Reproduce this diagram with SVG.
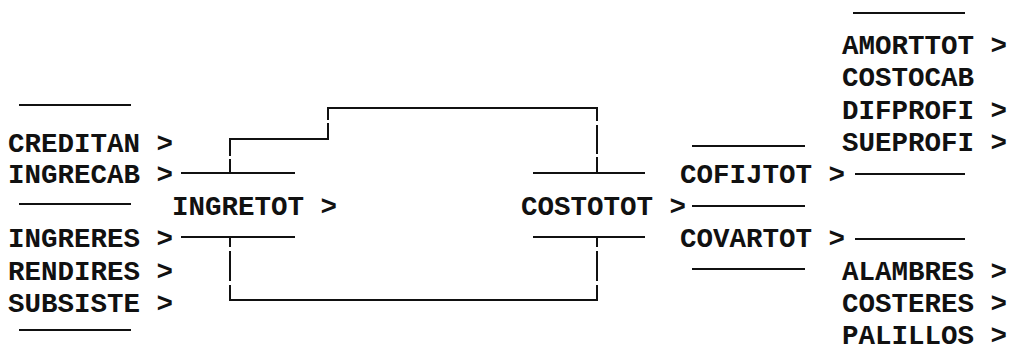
<svg xmlns="http://www.w3.org/2000/svg" width="1009" height="360" viewBox="0 0 1009 360">
  <style>
    text { font-family: "Liberation Mono", "Courier New", monospace; font-weight: bold; font-size: 27.5px; fill: #111; }
    .ln { stroke: #111; stroke-width: 2; fill: none; stroke-linecap: butt; }
  </style>
  <rect width="1009" height="360" fill="#fff"/>

  <!-- left inputs of INGRETOT -->
  <g id="creditan"><text x="8" y="152">CREDITAN &gt;</text></g>
  <g id="ingrecab"><text x="8" y="183">INGRECAB &gt;</text></g>
  <g id="ingreres"><text x="8" y="247">INGRERES &gt;</text></g>
  <g id="rendires"><text x="8" y="280">RENDIRES &gt;</text></g>
  <g id="subsiste"><text x="8" y="312">SUBSISTE &gt;</text></g>

  <g id="ingretot"><text x="172" y="215">INGRETOT &gt;</text></g>
  <g id="costotot"><text x="521" y="215">COSTOTOT &gt;</text></g>

  <g id="cofijtot"><text x="680" y="183">COFIJTOT &gt;</text></g>
  <g id="covartot"><text x="680" y="247">COVARTOT &gt;</text></g>

  <!-- right column: fixed costs -->
  <g id="amorttot"><text x="842" y="54">AMORTTOT &gt;</text></g>
  <g id="costocab"><text x="842" y="86">COSTOCAB</text></g>
  <g id="difprofi"><text x="842" y="119">DIFPROFI &gt;</text></g>
  <g id="sueprofi"><text x="842" y="151">SUEPROFI &gt;</text></g>

  <!-- right column: variable costs -->
  <g id="alambres"><text x="842" y="280">ALAMBRES &gt;</text></g>
  <g id="costeres"><text x="842" y="312">COSTERES &gt;</text></g>
  <g id="palillos"><text x="842" y="344">PALILLOS &gt;</text></g>

  <g id="connectors" class="ln">
    <!-- bracket bars of the left column -->
    <path d="M19 105H131 M19 204H131 M19 330H131"/>
    <!-- bars beside INGRETOT -->
    <path d="M181 173H295 M181 237H295"/>
    <!-- bars beside COSTOTOT -->
    <path d="M533 173H645 M533 237H645"/>
    <!-- bars of the COFIJTOT / COVARTOT block -->
    <path d="M692 146H805 M692 206H805 M692 269H805"/>
    <!-- bars after COFIJTOT and COVARTOT -->
    <path d="M855 174H965 M855 239H965"/>
    <!-- bar above the right column -->
    <path d="M853 13H965"/>

    <!-- upper link INGRETOT to COSTOTOT -->
    <path d="M230 173V159 M230 156V139H328V123 M328 120V108H597V121 M597 125V154 M597 157V173"/>
    <!-- lower link INGRETOT to COSTOTOT -->
    <path d="M230 237V247 M230 251V281 M230 285V300H597V285 M597 281V251 M597 247V237"/>
  </g>
</svg>
